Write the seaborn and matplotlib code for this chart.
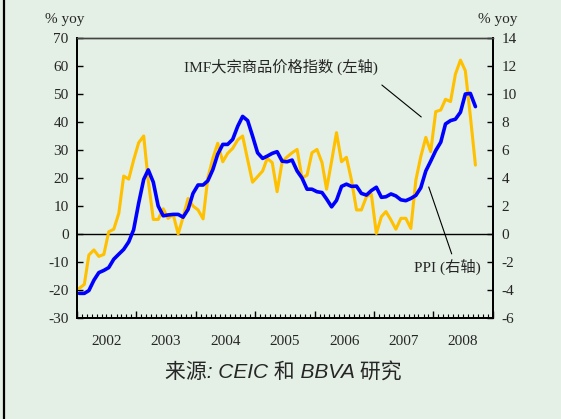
import numpy as np
import pandas as pd
import matplotlib
matplotlib.use("Agg")
import matplotlib.pyplot as plt
import matplotlib.dates as mdates
from matplotlib.lines import Line2D
import seaborn as sns

# IMF commodity price index, % yoy (left axis), monthly Jan 2002 - Sep 2008
imf = [-19.4, -18.0, -7.5, -5.7, -8.0, -7.3, 0.8, 1.7, 7.4, 20.7,
       19.6, 26.4, 32.6, 35.0, 19.0, 5.2, 5.2, 9.0, 5.6, 7.0,
       0.0, 6.0, 12.7, 10.0, 8.6, 5.4, 20.0, 27.0, 32.4, 25.8,
       28.8, 30.6, 33.6, 35.0, 26.5, 18.5, 20.5, 22.5, 27.0, 25.5,
       15.1, 25.8, 27.5, 29.0, 30.2, 20.0, 21.0, 29.0, 30.2, 25.5,
       16.0, 26.0, 36.2, 25.8, 27.4, 19.3, 8.6, 8.6, 13.3, 14.3,
       0.2, 6.2, 8.0, 5.0, 1.7, 5.6, 5.6, 2.0, 19.3, 27.6,
       34.5, 29.4, 43.7, 44.3, 48.1, 47.3, 57.1, 62.1, 58.3, 42.0,
       24.6]

# China PPI, % yoy (right axis)
ppi = [-4.24, -4.24, -4.04, -3.30, -2.76, -2.60, -2.40, -1.80, -1.44, -1.10,
       -0.56, 0.30, 2.20, 3.90, 4.58, 3.70, 2.00, 1.30, 1.36, 1.40,
       1.40, 1.20, 1.76, 2.90, 3.50, 3.50, 3.80, 4.60, 5.70, 6.40,
       6.40, 6.76, 7.70, 8.40, 8.10, 7.00, 5.80, 5.40, 5.56, 5.76,
       5.88, 5.20, 5.16, 5.28, 4.50, 4.00, 3.20, 3.20, 3.02, 2.96,
       2.50, 1.94, 2.40, 3.40, 3.56, 3.40, 3.42, 2.90, 2.78, 3.10,
       3.34, 2.62, 2.66, 2.86, 2.72, 2.44, 2.38, 2.54, 2.76, 3.30,
       4.50, 5.20, 5.96, 6.56, 7.86, 8.10, 8.20, 8.70, 10.00, 10.04,
       9.10]

years = [2002, 2003, 2004, 2005, 2006, 2007, 2008]
left_ticks = list(range(-30, 71, 10))
right_ticks = list(range(-6, 15, 2))

dates = pd.date_range("2002-01-01", periods=len(imf), freq="MS") + pd.Timedelta(days=14)
df = pd.DataFrame({"date": dates, "imf": imf, "ppi": ppi})

bg = "#E4EFE5"
sns.set_theme(style="ticks")
plt.rcParams["font.family"] = ["Liberation Serif", "Noto Sans CJK SC"]
plt.rcParams["axes.unicode_minus"] = False

fig = plt.figure(figsize=(5.61, 4.19), dpi=100, facecolor=bg)
ax = fig.add_axes([77 / 561, 1 - 318 / 419, (493 - 77) / 561, (318 - 38) / 419])
ax.set_facecolor(bg)
ax2 = ax.twinx()

ax.axhline(0, color="black", lw=1.0, zorder=1)
sns.lineplot(data=df, x="date", y="imf", ax=ax, color="#FFC000", lw=2.2)
sns.lineplot(data=df, x="date", y="ppi", ax=ax2, color="#0000FF", lw=2.6)

ax.set_xlim(pd.Timestamp("2002-01-01"), pd.Timestamp("2009-01-01"))
ax.set_ylim(-30, 70)
ax2.set_ylim(-6, 14)
ax.set_yticks(left_ticks)
ax2.set_yticks(right_ticks)
ax.set_xlabel("")
ax.set_ylabel("")
ax2.set_ylabel("")

ax.xaxis.set_major_locator(mdates.YearLocator())
ax.xaxis.set_minor_locator(mdates.MonthLocator())
ax.xaxis.set_major_formatter(plt.NullFormatter())
ax.tick_params(axis="x", which="major", direction="in", length=5, width=1, color="black")
ax.tick_params(axis="x", which="minor", direction="in", length=3, width=0.8, color="black")
ax.tick_params(axis="y", direction="in", length=4, width=1, color="black", labelsize=11, pad=6)
ax2.tick_params(axis="y", direction="in", length=4, width=1, color="black", labelsize=11, pad=6)

for a in (ax, ax2):
    for s in ["left", "bottom", "right"]:
        a.spines[s].set_color("black")
        a.spines[s].set_linewidth(1.3)
    a.spines["top"].set_color("#444444")
    a.spines["top"].set_linewidth(1.0)

# year labels centred in each year
for y in years:
    ax.text(pd.Timestamp(f"{y}-07-01"), -0.085, str(y), transform=ax.get_xaxis_transform(),
            ha="center", va="center", fontsize=11)

fig.text(65 / 561, 1 - 19 / 419, "% yoy", ha="center", va="center", fontsize=11)
fig.text(498 / 561, 1 - 19 / 419, "% yoy", ha="center", va="center", fontsize=11)

# annotations
ax.text(pd.Timestamp("2005-06-07"), 59.6, "IMF大宗商品价格指数 (左轴)", ha="center", va="center", fontsize=11)
ax.plot([pd.Timestamp("2007-02-18"), pd.Timestamp("2007-10-18")], [53.2, 41.8], color="black", lw=0.8)
ax.text(pd.Timestamp("2008-03-28"), -11.6, "PPI (右轴)", ha="center", va="center", fontsize=11)
ax.plot([pd.Timestamp("2007-12-03"), pd.Timestamp("2008-04-22")], [16.8, -7.1], color="black", lw=0.8)

fig.text(283 / 561, 1 - 372 / 419, "来源: CEIC 和 BBVA 研究", ha="center", va="center",
         fontsize=15, style="italic", family=["Liberation Sans", "Noto Sans CJK SC"])

fig.add_artist(Line2D([4 / 561, 4 / 561], [0, 1], color="black", lw=1.6, transform=fig.transFigure))

fig.savefig("out.png", dpi=100, facecolor=bg)
